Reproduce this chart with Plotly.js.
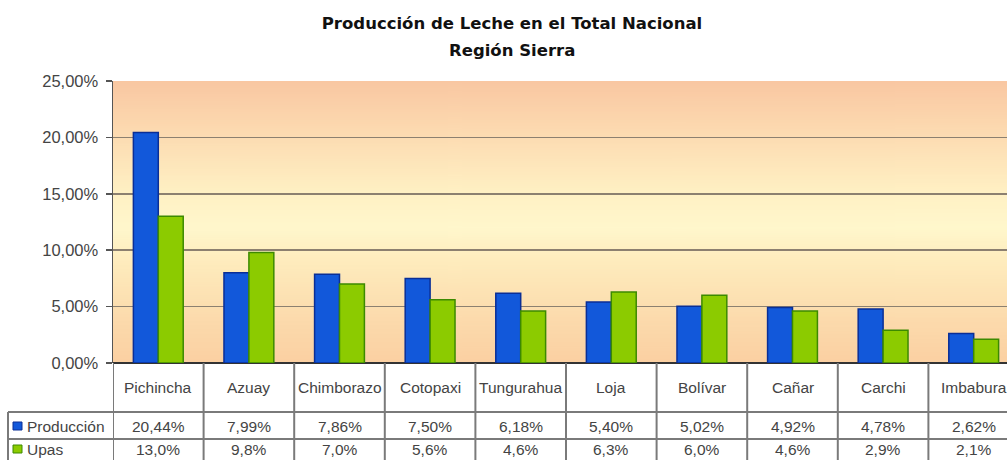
<!DOCTYPE html>
<html>
<head>
<meta charset="utf-8">
<script src="https://cdn.plot.ly/plotly-3.0.1.min.js"></script>
<style>
html,body{margin:0;padding:0;background:#fff;}
#chart{width:1007px;height:460px;}
</style>
</head>
<body>
<div id="chart"></div>
<script>
const categories = ["Pichincha","Azuay","Chimborazo","Cotopaxi","Tungurahua","Loja","Bolívar","Cañar","Carchi","Imbabura"];
const produccion = [20.44, 7.99, 7.86, 7.50, 6.18, 5.40, 5.02, 4.92, 4.78, 2.62];
const upas = [13.0, 9.8, 7.0, 5.6, 4.6, 6.3, 6.0, 4.6, 2.9, 2.1];
const yTicks = [0, 5, 10, 15, 20, 25];
const seriesNames = ["Producción", "Upas"];

function fmt(v, d) { return v.toFixed(d).replace('.', ',') + '%'; }

const cv = document.createElement('canvas');
cv.width = 4; cv.height = 300;
const ctx = cv.getContext('2d');
const g = ctx.createLinearGradient(0, 0, 0, 300);
g.addColorStop(0, '#F9C7A2');
g.addColorStop(0.15, '#FCD7AE');
g.addColorStop(0.4, '#FFF1C4');
g.addColorStop(0.52, '#FFF7CC');
g.addColorStop(0.65, '#FEEBBC');
g.addColorStop(0.85, '#FCDAAC');
g.addColorStop(1, '#FBD0A2');
ctx.fillStyle = g; ctx.fillRect(0, 0, 4, 300);
const bgUrl = cv.toDataURL();

const xIdx = categories.map((c, i) => i);
const blue = '#1258DA', blueLine = '#0A2E96';
const green = '#8CCB00', greenLine = '#3C8A00';

const traces = [
  {type: 'bar', x: xIdx, y: produccion, name: seriesNames[0],
   marker: {color: blue, line: {color: blueLine, width: 1.5}}, hoverinfo: 'none'},
  {type: 'bar', x: xIdx, y: upas, name: seriesNames[1],
   marker: {color: green, line: {color: greenLine, width: 1.5}}, hoverinfo: 'none'}
];

const W = 1007, H = 460, L = 113, T = 81, B = 97;
const plotH = H - T - B;
function py(pix) { return (H - B - pix) / plotH; }
function px(pix) { return (pix - L) / (W - L); }
const lineCol = '#7a7a7a';
const shapes = [];
const annotations = [];
const tFont = {family: 'Liberation Sans, Arial, sans-serif', size: 15.5, color: '#444'};
const titleFont = {family: 'DejaVu Sans, Verdana, sans-serif', size: 16.5, color: '#111', weight: 'bold'};
const rowUpas = 449;

for (let i = 0; i <= categories.length; i++) {
  shapes.push({type: 'line', xref: 'x', yref: 'paper', x0: i - 0.5, x1: i - 0.5,
    y0: py(363), y1: py(462), line: {color: lineCol, width: 2}});
}
[412, 439].forEach(yy => {
  shapes.push({type: 'line', xref: 'paper', yref: 'paper', x0: px(8), x1: 1.02,
    y0: py(yy), y1: py(yy), line: {color: lineCol, width: 2}});
});
shapes.push({type: 'line', xref: 'paper', yref: 'paper', x0: px(8), x1: px(8),
  y0: py(412), y1: py(462), line: {color: lineCol, width: 2}});
[[blue, blueLine, 426], [green, greenLine, rowUpas]].forEach(([c, lc, yy]) => {
  shapes.push({type: 'rect', xref: 'paper', yref: 'paper',
    x0: px(13), x1: px(22), y0: py(yy + 4), y1: py(yy - 4),
    fillcolor: c, line: {color: lc, width: 1}});
});
categories.forEach((c, i) => {
  annotations.push({xref: 'x', yref: 'paper', x: i, y: py(387), text: c, showarrow: false,
    font: tFont, xanchor: 'center', yanchor: 'middle'});
  annotations.push({xref: 'x', yref: 'paper', x: i, y: py(426), text: fmt(produccion[i], 2), showarrow: false,
    font: tFont, xanchor: 'center', yanchor: 'middle'});
  annotations.push({xref: 'x', yref: 'paper', x: i, y: py(rowUpas), text: fmt(upas[i], 1), showarrow: false,
    font: tFont, xanchor: 'center', yanchor: 'middle'});
});
seriesNames.forEach((n, k) => {
  annotations.push({xref: 'paper', yref: 'paper', x: px(25), y: py(k ? rowUpas : 426), text: n,
    showarrow: false, font: tFont, xanchor: 'left', yanchor: 'middle'});
});
annotations.push({xref: 'paper', yref: 'paper', x: px(512), y: py(50), text: 'Región Sierra',
  showarrow: false, font: titleFont, xanchor: 'center', yanchor: 'middle'});

const layout = {
  width: W, height: H,
  margin: {l: L, r: 0, t: T, b: B, pad: 0},
  paper_bgcolor: '#ffffff',
  plot_bgcolor: 'rgba(0,0,0,0)',
  showlegend: false,
  bargap: 0.45, bargroupgap: 0,
  title: {text: 'Producción de Leche en el Total Nacional', font: titleFont,
    x: 512 / W, xanchor: 'center', xref: 'container', y: 1 - 23 / H, yanchor: 'middle', yref: 'container'},
  xaxis: {range: [-0.5, -0.5 + (W - L) / 90.6], showticklabels: false, showgrid: false,
    zeroline: false, showline: false, ticks: '', fixedrange: true},
  yaxis: {range: [0, 25], tickvals: yTicks, ticktext: yTicks.map(v => fmt(v, 2)),
    showgrid: true, gridcolor: '#8c8070', gridwidth: 1.5,
    showline: true, linecolor: '#555', linewidth: 1.5,
    ticks: 'outside', ticklen: 6, tickcolor: '#555', tickwidth: 1.5,
    ticklabelstandoff: 4,
    tickfont: {family: 'Liberation Sans, Arial, sans-serif', size: 16.5, color: '#444'},
    zeroline: true, zerolinecolor: '#333', zerolinewidth: 1.5, fixedrange: true},
  images: [{source: bgUrl, xref: 'paper', yref: 'paper', x: 0, y: 1, sizex: 1, sizey: 1,
    sizing: 'stretch', layer: 'below', xanchor: 'left', yanchor: 'top'}],
  shapes: shapes,
  annotations: annotations
};

Plotly.newPlot('chart', traces, layout, {displayModeBar: false, staticPlot: true});
</script>
</body>
</html>
